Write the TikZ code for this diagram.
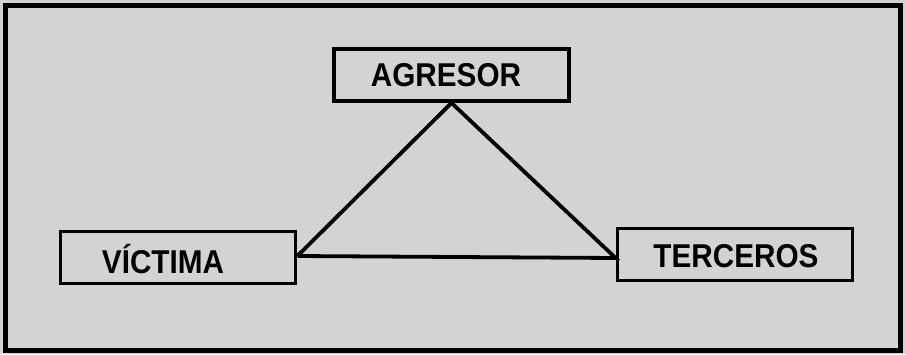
\documentclass[tikz,border=0pt]{standalone}
\usepackage{fontspec}
\newfontfamily\boxfont{Liberation Sans}[FakeStretch=0.9]

\tikzset{
  rolebox/.style={draw, line width=3.8pt, minimum width=235pt, minimum height=52pt, inner sep=0pt},
  rolelabel/.style={font=\boxfont\bfseries\fontsize{33}{36}\selectfont, anchor=base, inner sep=0pt},
  tie/.style={line width=3.8pt}
}

\begin{document}
\begin{tikzpicture}[x=1pt, y=-1pt]
\useasboundingbox (0,0) rectangle (906,354);
\fill[fill={rgb,255:red,211;green,211;blue,211}] (0,0) rectangle (906,354);
\draw[line width=5pt] (5.5,5.5) rectangle (900.5,350.5);

% the three roles
\node[rolebox] (agresor) at (451.5,75) {};
\node[rolebox] (victima) at (178,257.5) {};
\node[rolebox] (terceros) at (735,254.5) {};

\node[rolelabel] (agresorlbl) at (446,86) {AGRESOR};
\node[rolelabel] (victimalbl) at (163,273) {VÍCTIMA};
\node[rolelabel] (euroslbl) at (736,267) {TERCEROS};

% triangle
\coordinate (vend) at ([yshift=1.5pt]victima.east);
\coordinate (tend) at ([yshift=-3.5pt]terceros.west);
\draw[tie, line join=miter] (vend) -- (agresor.south) -- (tend) -- (vend);
\end{tikzpicture}
\end{document}
